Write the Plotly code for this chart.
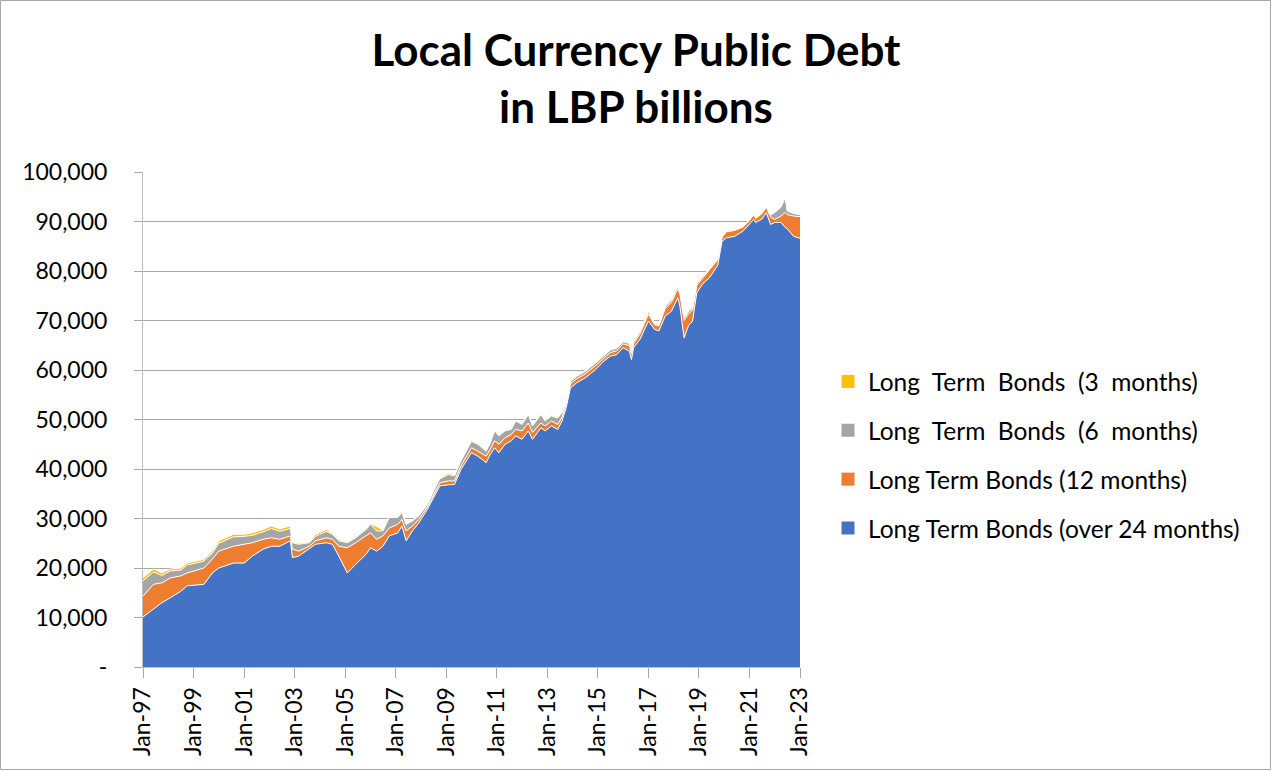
import plotly.graph_objects as go

# Month of each reading (first of month)
months = [
    "1997-01", "1997-06", "1997-10", "1998-02", "1998-07", "1998-10", "1999-06", "1999-10",
    "2000-01", "2000-08", "2001-01", "2001-05", "2001-10", "2002-02", "2002-06", "2002-11",
    "2002-12", "2003-03", "2003-08", "2003-11", "2004-04", "2004-07", "2004-10", "2005-02",
    "2005-06", "2005-11", "2006-01", "2006-04", "2006-07", "2006-10", "2007-02", "2007-04",
    "2007-06", "2007-09", "2007-12", "2008-04", "2008-08", "2008-10", "2009-02", "2009-05",
    "2009-08", "2010-01", "2010-04", "2010-08", "2010-10", "2010-12", "2011-02", "2011-05",
    "2011-08", "2011-10", "2012-01", "2012-04", "2012-06", "2012-10", "2012-12", "2013-03",
    "2013-06", "2013-08", "2013-10", "2013-12", "2014-03", "2014-07", "2014-12", "2015-04",
    "2015-07", "2015-10", "2016-01", "2016-04", "2016-05", "2016-06", "2016-09", "2017-01",
    "2017-04", "2017-06", "2017-09", "2017-12", "2018-03", "2018-04", "2018-06", "2018-08",
    "2018-10", "2018-12", "2019-03", "2019-06", "2019-10", "2019-12", "2020-02", "2020-06",
    "2020-10", "2021-01", "2021-03", "2021-04", "2021-07", "2021-09", "2021-11", "2022-01",
    "2022-04", "2022-06", "2022-07", "2022-10", "2023-01",
]

# Outstanding amounts by maturity, LBP billions
over_24m = [
    10100, 11700, 13000, 14000, 15300, 16400, 16700, 19000,
    20000, 21000, 21000, 22400, 23800, 24400, 24400, 25500,
    22100, 22400, 23800, 24800, 25100, 24800, 22400, 19000,
    20700, 22800, 24100, 23400, 24400, 26500, 27100, 28500,
    25500, 27500, 29100, 31800, 35000, 36600, 36800, 36900,
    39900, 43300, 42600, 41300, 43000, 44300, 43300, 45000,
    45700, 46700, 46000, 47700, 46000, 48300, 47700, 48700,
    48000, 49700, 52400, 56400, 57400, 58400, 60100, 61800,
    62800, 63100, 64500, 63800, 62100, 64500, 66200, 69900,
    68200, 67900, 70900, 71900, 74600, 72900, 66500, 68900,
    69900, 75600, 77500, 78600, 81200, 86000, 86700, 87000,
    88100, 89400, 90400, 89800, 90500, 91800, 89400, 89800,
    89800, 88800, 88500, 87000, 86600,
]
m12 = [
    4200, 5000, 4000, 4000, 3100, 2600, 3300, 2800,
    3400, 3400, 3800, 2700, 2000, 1700, 1400, 1000,
    1700, 1000, 600, 700, 1000, 1000, 2000, 5100,
    4400, 3700, 3000, 2400, 2100, 1600, 1700, 1300,
    2000, 1000, 700, 500, 600, 600, 800, 700,
    700, 1000, 1000, 1300, 1000, 1400, 1700, 1300,
    1300, 1300, 1700, 1600, 1400, 1000, 1000, 1000,
    1000, 800, 700, 800, 800, 800, 800, 700,
    700, 800, 800, 1100, 1200, 800, 1100, 1400,
    900, 1000, 1500, 1800, 1800, 2500, 3500, 2400,
    2200, 1500, 1200, 1500, 1100, 800, 1200, 1200,
    800, 800, 1000, 800, 1100, 1100, 1500, 600,
    1300, 3000, 2900, 4100, 4400,
]
m6 = [
    3100, 2500, 1500, 1400, 1200, 1600, 1400, 1200,
    1600, 1900, 1600, 1500, 1500, 1900, 1600, 1500,
    1300, 1400, 700, 900, 1300, 1000, 1100, 1000,
    1000, 1300, 1700, 1700, 1000, 2100, 1400, 1400,
    1300, 1000, 700, 500, 800, 800, 1300, 1000,
    1000, 1300, 1400, 1000, 1300, 2000, 1700, 1400,
    1000, 1700, 1300, 1700, 1300, 1700, 1000, 1000,
    1300, 900, 500, 500, 500, 500, 500, 500,
    500, 500, 400, 500, 400, 400, 500, 500,
    300, 200, 400, 500, 500, 500, 500, 500,
    400, 400, 200, 300, 200, 100, 100, 100,
    100, 100, 100, 100, 100, 100, 400, 1400,
    1800, 3000, 700, 500, 400,
]
m3 = [
    600, 600, 500, 400, 400, 400, 400, 400,
    500, 500, 400, 500, 500, 500, 500, 500,
    200, 200, 200, 400, 400, 200, 200, 200,
    200, 200, 200, 800, 200, 200, 200, 200,
    200, 200, 200, 200, 200, 200, 300, 200,
    200, 200, 200, 200, 200, 200, 200, 200,
    200, 200, 200, 200, 200, 200, 200, 200,
    200, 200, 200, 200, 200, 200, 200, 150,
    150, 150, 150, 150, 150, 150, 150, 150,
    150, 150, 150, 150, 150, 150, 150, 150,
    150, 150, 150, 150, 150, 100, 100, 100,
    100, 100, 100, 100, 100, 100, 100, 100,
    100, 100, 100, 100, 100,
]

series_names = [
    "Long Term Bonds (over 24 months)",
    "Long Term Bonds (12 months)",
    "Long\u00a0 Term\u00a0 Bonds\u00a0 (6\u00a0 months)",
    "Long\u00a0 Term\u00a0 Bonds\u00a0 (3\u00a0 months)",
]
series_colors = ["#4472C4", "#ED7D31", "#A5A5A5", "#FFC000"]

y_tick_values = [0, 10000, 20000, 30000, 40000, 50000, 60000, 70000, 80000, 90000, 100000]
y_tick_labels = ["-", "10,000", "20,000", "30,000", "40,000", "50,000",
                 "60,000", "70,000", "80,000", "90,000", "100,000"]

dates = [m + "-01" for m in months]
layers = [over_24m, m12, m6, m3]

fig = go.Figure()

# Stacked areas, longest maturity at the bottom
for name, vals, col in zip(series_names, layers, series_colors):
    fig.add_trace(go.Scatter(
        x=dates, y=vals, name=name, mode="lines",
        stackgroup="debt", line=dict(color="white", width=1),
        fillcolor=col, showlegend=False, hoverinfo="x+y+name",
    ))

# Square legend keys, shortest maturity listed first
for i in range(3, -1, -1):
    fig.add_trace(go.Scatter(
        x=[None], y=[None], mode="markers", name=series_names[i],
        legendgroup=f"g{i}",
        marker=dict(symbol="square", size=13, color=series_colors[i]),
    ))

L, R, T, B = 143, 472, 172, 104
W, H = 1272, 771
pw, ph = W - L - R, H - T - B

fig.update_layout(
    width=W, height=H,
    margin=dict(l=L, r=R, t=T, b=B, pad=0),
    paper_bgcolor="white", plot_bgcolor="white",
    font=dict(family="Lato", size=23, color="#000000"),
    title=dict(
        text="<b>Local Currency Public Debt<br>in LBP billions</b>",
        x=0.5, xanchor="center", xref="container",
        y=1 - 66 / H, yanchor="top", yref="container",
        font=dict(family="Lato", size=44, color="#000000"),
    ),
    legend=dict(
        x=(828 - L) / pw, xanchor="left",
        y=(H - B - 455) / ph, yanchor="middle",
        traceorder="grouped", tracegroupgap=14,
        font=dict(family="Lato", size=24.5, color="#000000"),
        bgcolor="rgba(0,0,0,0)", itemwidth=30,
    ),
    showlegend=True,
    shapes=[dict(
        type="rect", xref="paper", yref="paper",
        x0=(0.5 - L) / pw, x1=(W - 1.5 - L) / pw,
        y0=-(B - 1.5) / ph, y1=1 + (T - 0.5) / ph,
        line=dict(color="#A6A6A6", width=1), fillcolor="rgba(0,0,0,0)",
        layer="below",
    )],
)

fig.update_xaxes(
    type="date", range=["1997-01-01", "2023-01-01"],
    tick0="1997-01-01", dtick="M24", tickformat="%b-%y",
    tickangle=-90, ticks="outside", ticklen=10, tickcolor="#A6A6A6",
    showgrid=False, showline=True, linecolor="#BFBFBF", linewidth=1,
    tickfont=dict(family="Lato", size=23, color="#000000"),
    zeroline=False,
)
fig.update_yaxes(
    range=[0, 100000], tickvals=y_tick_values, ticktext=y_tick_labels,
    ticks="outside", ticklen=8, tickcolor="#A6A6A6",
    showgrid=True, gridcolor="#A6A6A6", gridwidth=1,
    showline=True, linecolor="#BFBFBF", linewidth=1,
    ticklabelstandoff=22,
    tickfont=dict(family="Lato", size=23, color="#000000"),
    zeroline=False,
)

fig.write_html("out.html")
